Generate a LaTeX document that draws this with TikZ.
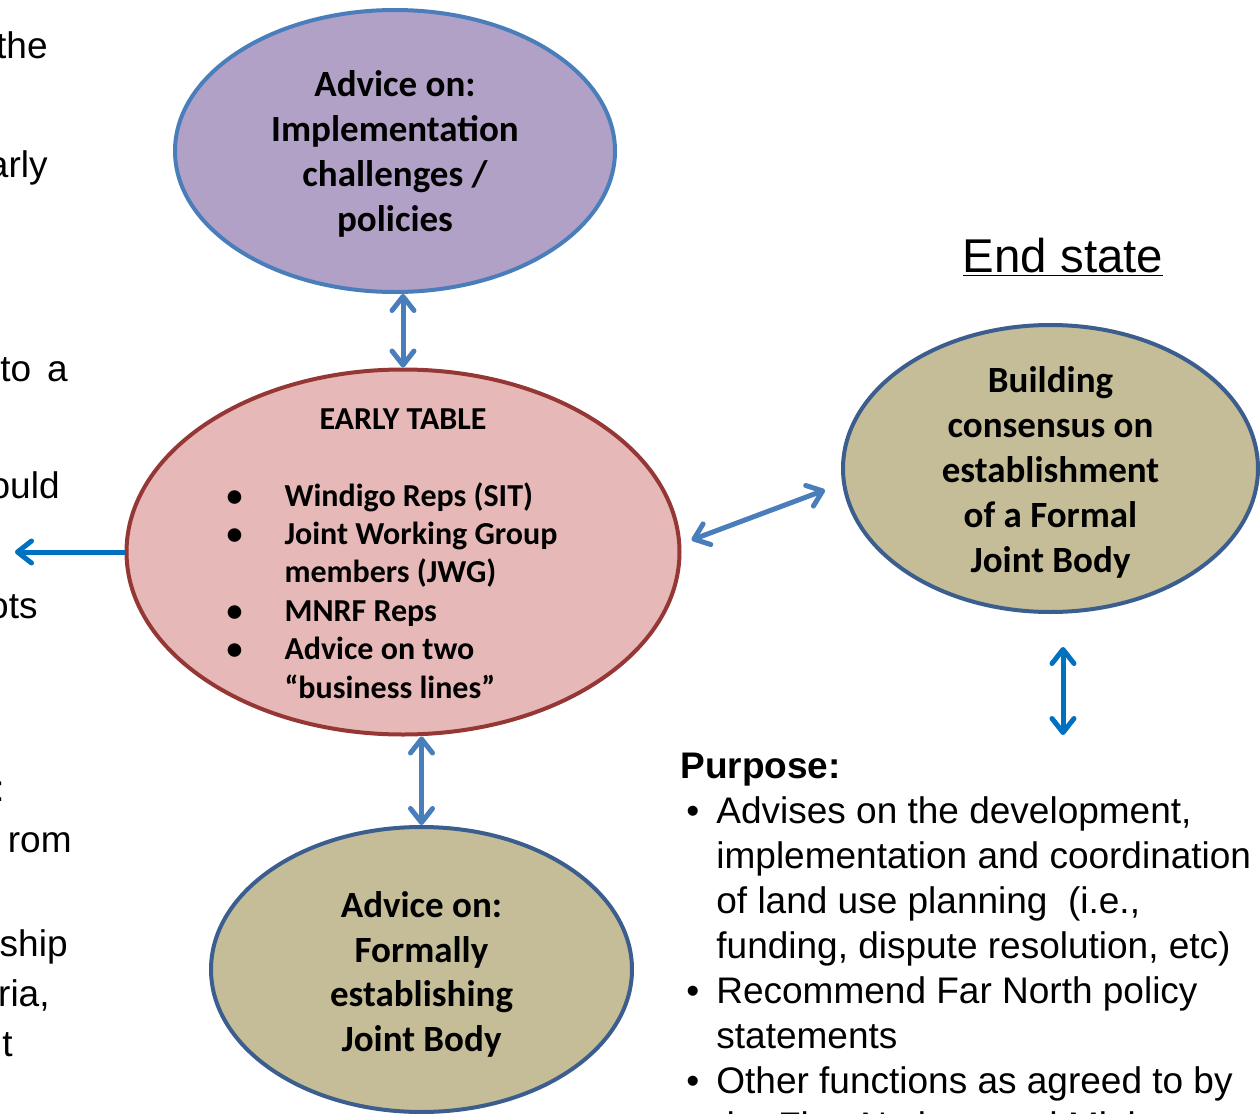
\documentclass[tikz,border=0pt]{standalone}
\usepackage{fontspec}
\setmainfont{Liberation Sans}
\newfontfamily\calibri{Carlito}
\usetikzlibrary{shapes.geometric,arrows.meta,calc}
\definecolor{lilac}{HTML}{B2A1C7}
\definecolor{lilacline}{HTML}{4A7EBB}
\definecolor{rose}{HTML}{E6B9B8}
\definecolor{roseline}{HTML}{953735}
\definecolor{khaki}{HTML}{C4BD97}
\definecolor{khakiline}{HTML}{3B5E8E}
\definecolor{steel}{HTML}{4A7EBB}
\definecolor{brightblue}{HTML}{0070C0}
\begin{document}
\begin{tikzpicture}[x=0.5pt,y=-0.5pt,
  blob/.style={draw, ellipse, line width=2pt, inner sep=0pt},
  blobtext/.style={align=center, inner sep=0pt, yshift=-2pt, font=\calibri\bfseries\fontsize{18.5}{22.4}\selectfont},
  listtext/.style={inner sep=0pt, yshift=-2pt, font=\calibri\bfseries\fontsize{16}{19.2}\selectfont},
  plaintext/.style={inner sep=0pt, font=\fontsize{18.5}{22.5}\selectfont},
  fragment/.style={plaintext, anchor=base east},
  barb/.tip={Straight Barb[round,length=7pt,width=11pt]},
  link/.style={line width=2.5pt, steel, barb-barb},
  bluelink/.style={line width=2.5pt, brightblue}]
  \useasboundingbox (0,0) rectangle (1260,1114);
  \clip (0,0) rectangle (1260,1114);

  \node[fragment] (f1) at (48,58) {the};
  \node[fragment] (f2) at (48,177) {arly};
  \node[plaintext, anchor=base west] (f3) at (0,381) {to\hspace{8pt}a};
  \node[fragment] (f4) at (60,498) {ould};
  \node[fragment] (f5) at (38,618) {ots};
  \node[fragment] (f6) at (5,801) {:};
  \node[fragment] (f7) at (72,852) {rom};
  \node[fragment] (f8) at (68,956) {ship};
  \node[fragment] (f9) at (50,1006) {ria,};
  \node[fragment] (f10) at (13,1056) {t};

  \node[blob, fill=lilac, draw=lilacline, minimum width=220pt, minimum height=141pt] (advice) at (395,151) {};
  \node[blobtext, yshift=0.5pt] (advicetext) at (advice) {Advice on:\\Implementation\\challenges /\\policies};

  \node[blob, fill=rose, draw=roseline, minimum width=276.5pt, minimum height=182.5pt] (early) at (403,552) {};
  \node[listtext] (earlytext) at (early) {\begin{tabular}{@{}p{29pt}@{}l@{}}
    \multicolumn{2}{@{}c@{}}{\hspace*{11pt}EARLY TABLE}\\
    &\\
    \textbullet & Windigo Reps (SIT)\\
    \textbullet & Joint Working Group\\
    & members (JWG)\\
    \textbullet & MNRF Reps\\
    \textbullet & Advice on two\\
    & “business lines”
  \end{tabular}\rule{11pt}{0pt}};

  \node[blob, fill=khaki, draw=khakiline, minimum width=207.5pt, minimum height=143.5pt] (consensus) at (1050.5,468.5) {};
  \node[blobtext] (consensustext) at (consensus) {Building\\consensus on\\establishment\\of a Formal\\Joint Body};

  \node[blob, fill=khaki, draw=khakiline, minimum width=210.5pt, minimum height=142.5pt] (formal) at (421.5,969.5) {};
  \node[blobtext, yshift=-0.5pt] (formaltext) at (formal) {Advice on:\\Formally\\establishing\\Joint Body};

  \node[plaintext, anchor=base, font=\fontsize{23.7}{28}\selectfont] (endstate) at (1063,272) {\underline{End state}};

  \node[plaintext, anchor=base west] (purpose) at (680,778) {\begin{tabular}[t]{@{}p{18pt}@{}l@{}}
    \multicolumn{2}{@{}l@{}}{\textbf{Purpose:}}\\
    \hspace*{3pt}\textbullet & Advises on the development,\\
    & implementation and coordination\\
    & of land use planning\ \ (i.e.,\\
    & funding, dispute resolution, etc)\\
    \hspace*{3pt}\textbullet & Recommend Far North policy\\
    & statements\\
    \hspace*{3pt}\textbullet & Other functions as agreed to by\\
    & the First Nations and Ministry
  \end{tabular}};

  \coordinate (purposetop) at (1063,735);
  \coordinate (offleft) at (15,552);

  \draw[link] (early.north) -- (early.north |- advice.south);
  \draw[link] (formal.north) -- (formal.north |- early.south);
  \draw[link] ($(early.east)+(10,-12)$) -- ($(consensus.west)+(-16,21.5)$);
  \draw[bluelink, barb-barb] ($(consensus.south)+(12.5,33)$) -- (purposetop);
  \draw[bluelink, -barb] (early.west) -- (offleft);
\end{tikzpicture}
\end{document}
